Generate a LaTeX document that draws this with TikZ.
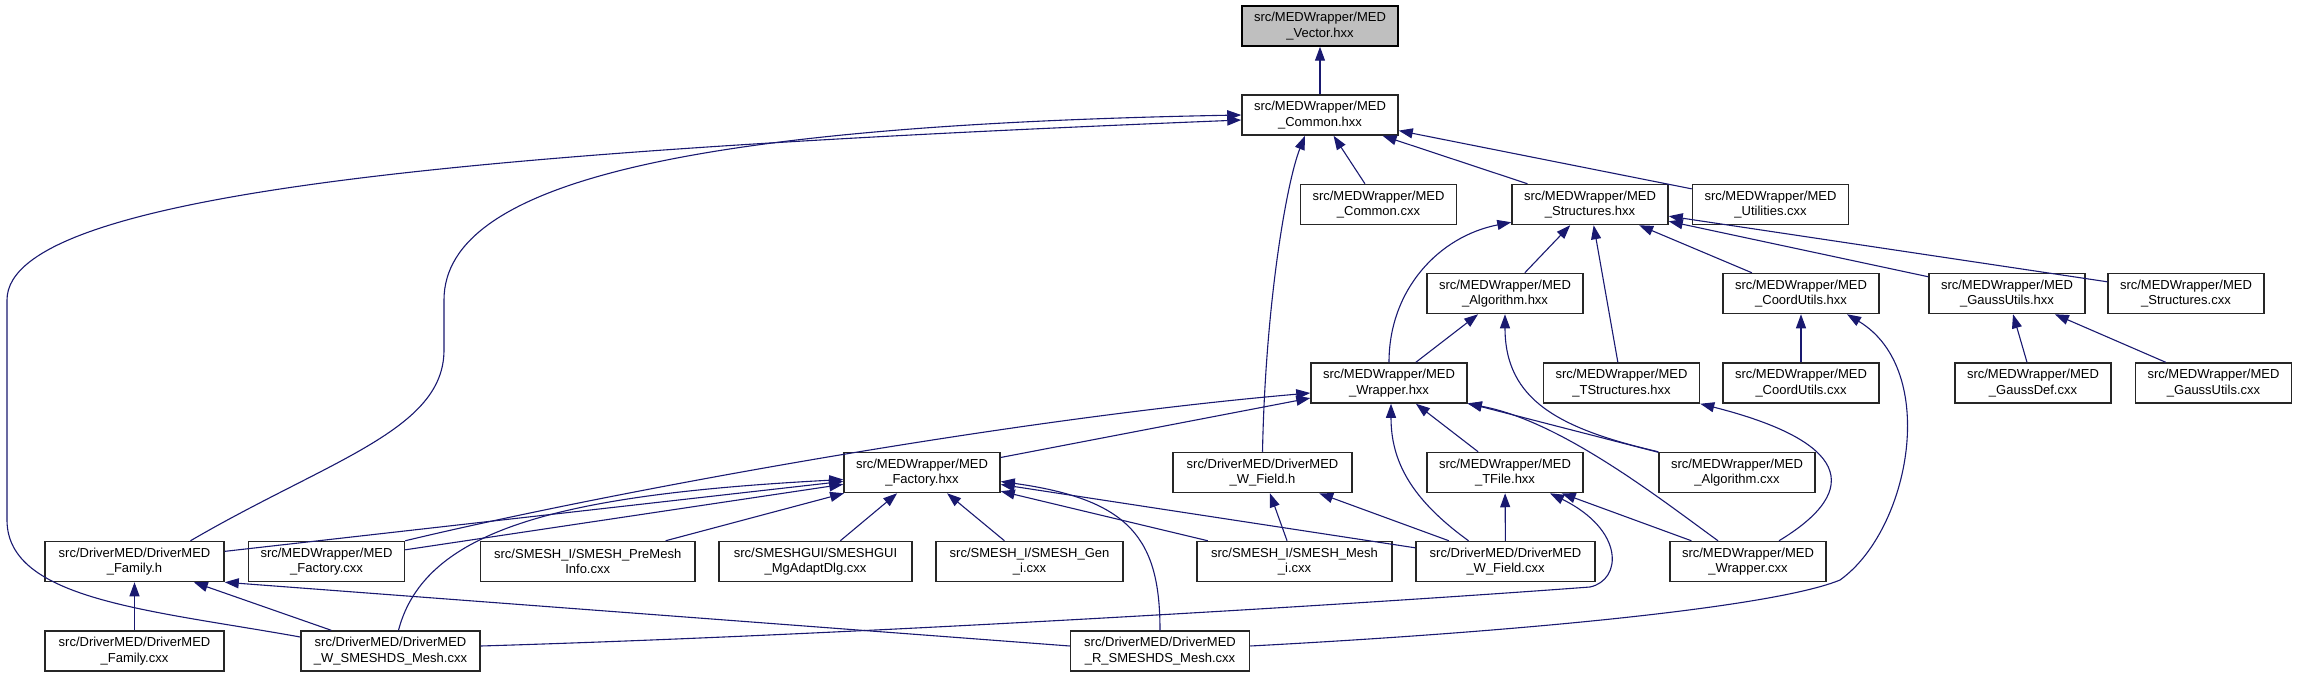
\documentclass[tikz,border=0pt]{standalone}
\usepackage{fontspec}
\setmainfont{Liberation Sans}
\usetikzlibrary{arrows.meta,calc}
\definecolor{depEdge}{HTML}{191970}
\definecolor{depRoot}{HTML}{BFBFBF}
\definecolor{depLine}{HTML}{262626}

\begin{document}
\begin{tikzpicture}[x=1pt,y=-1pt,
  file/.style={draw=depLine,line width=1.5pt,fill=white,minimum width=156pt,
    minimum height=40pt,inner sep=0pt,align=center,
    font=\fontsize{13}{15.3}\selectfont},
  root/.style={file,draw=black,fill=depRoot},
  drv/.style={file,minimum width=179pt},
  dep/.style={draw=depEdge,line width=1.1pt,-{Triangle[length=14pt,width=10pt]}}]
  \useasboundingbox (0,0) rectangle (2297,677);

  % headers and sources, row by row
  \node[root] (vecH) at (1320,26) {src/MEDWrapper/MED\\\_Vector.hxx};
  \node[file] (comH) at (1320,115) {src/MEDWrapper/MED\\\_Common.hxx};

  \node[file] (comC) at (1378.5,204.5) {src/MEDWrapper/MED\\\_Common.cxx};
  \node[file] (strH) at (1590,204.5) {src/MEDWrapper/MED\\\_Structures.hxx};
  \node[file] (utlC) at (1770.5,204.5) {src/MEDWrapper/MED\\\_Utilities.cxx};

  \node[file] (algH) at (1505,293.5) {src/MEDWrapper/MED\\\_Algorithm.hxx};
  \node[file] (crdH) at (1801,293.5) {src/MEDWrapper/MED\\\_CoordUtils.hxx};
  \node[file] (gauH) at (2007,293.5) {src/MEDWrapper/MED\\\_GaussUtils.hxx};
  \node[file] (strC) at (2186,293.5) {src/MEDWrapper/MED\\\_Structures.cxx};

  \node[file] (wrpH) at (1389,383) {src/MEDWrapper/MED\\\_Wrapper.hxx};
  \node[file] (tstH) at (1621.5,383) {src/MEDWrapper/MED\\\_TStructures.hxx};
  \node[file] (crdC) at (1801,383) {src/MEDWrapper/MED\\\_CoordUtils.cxx};
  \node[file] (gdfC) at (2033,383) {src/MEDWrapper/MED\\\_GaussDef.cxx};
  \node[file] (gauC) at (2213.5,383) {src/MEDWrapper/MED\\\_GaussUtils.cxx};

  \node[file] (facH) at (922,472.5) {src/MEDWrapper/MED\\\_Factory.hxx};
  \node[drv]  (wfdH) at (1262.5,472.5) {src/DriverMED/DriverMED\\\_W\_Field.h};
  \node[file] (tflH) at (1505,472.5) {src/MEDWrapper/MED\\\_TFile.hxx};
  \node[file] (algC) at (1737,472.5) {src/MEDWrapper/MED\\\_Algorithm.cxx};

  \node[drv]  (famH) at (134.5,561.5) {src/DriverMED/DriverMED\\\_Family.h};
  \node[file] (facC) at (326.5,561.5) {src/MEDWrapper/MED\\\_Factory.cxx};
  \node[file,minimum width=214.5pt] (pmiC) at (587.7,561.5) {src/SMESH\_I/SMESH\_PreMesh\\Info.cxx};
  \node[file,minimum width=193pt] (mgaC) at (815.5,561.5) {src/SMESHGUI/SMESHGUI\\\_MgAdaptDlg.cxx};
  \node[file,minimum width=187pt] (genC) at (1029.5,561.5) {src/SMESH\_I/SMESH\_Gen\\\_i.cxx};
  \node[file,minimum width=195pt] (mshC) at (1294.5,561.5) {src/SMESH\_I/SMESH\_Mesh\\\_i.cxx};
  \node[drv]  (wfdC) at (1505.5,561.5) {src/DriverMED/DriverMED\\\_W\_Field.cxx};
  \node[file] (wrpC) at (1748,561.5) {src/MEDWrapper/MED\\\_Wrapper.cxx};

  \node[drv] (famC) at (134.5,651) {src/DriverMED/DriverMED\\\_Family.cxx};
  \node[drv] (wsmC) at (390.5,651) {src/DriverMED/DriverMED\\\_W\_SMESHDS\_Mesh.cxx};
  \node[drv] (rsmC) at (1160,651) {src/DriverMED/DriverMED\\\_R\_SMESHDS\_Mesh.cxx};

  % include edges, arrow at the included file
  \draw[dep] (comH) -- (vecH);
  \draw[dep] (comC) -- (comH);
  \draw[dep] (strH) -- (comH);
  \draw[dep] (utlC) -- (comH);
  \draw[dep] ([xshift=56pt]famH.north) .. controls +(139,-81) and +(0,80) .. (444,350)
    -- (444,300) .. controls +(0,-120) and +(-542,10) .. (comH.west);
  \draw[dep] ([yshift=14pt]wsmC.west) .. controls +(-150,-27) and +(0,80) .. (7,520)
    -- (7,300) .. controls +(0,-110) and +(-742,30) .. ([yshift=-5pt]comH.west);
  \draw[dep] (wfdH.north) .. controls +(3,-150) and +(-18,45) .. ([xshift=-15pt]comH.south);

  \draw[dep] (algH) -- (strH);
  \draw[dep] (crdH) -- (strH);
  \draw[dep] (gauH) -- (strH);
  \draw[dep] (strC) -- (strH);
  \draw[dep] (tstH) -- (strH);
  \draw[dep] (wrpH.north) .. controls +(0,-73) and +(-72,14) .. ([yshift=3pt]strH.south west);

  \draw[dep] (wrpH) -- (algH);
  \draw[dep] (algC.north west) .. controls +(-99,-23) and +(0,86) .. (algH.south);

  \draw[dep] (crdC) -- (crdH);
  \draw[dep] ([yshift=5pt]rsmC.east) .. controls +(301,-16) and +(-60,25) .. (1840,580)
    .. controls +(70,-50) and +(93,56) .. ([xshift=46pt]crdH.south);

  \draw[dep] (gdfC) -- (gauH);
  \draw[dep] (gauC) -- (gauH);

  \draw[dep] (facH) -- (wrpH);
  \draw[dep] (tflH) -- (wrpH);
  \draw[dep] (algC) -- (wrpH);
  \draw[dep] (facC.north east) .. controls +(196,-47) and +(-311,27) .. ([yshift=-10pt]wrpH.west);
  \draw[dep] ([xshift=-37pt]wfdC.north) .. controls +(-58,-42) and +(0,57) .. ([xshift=2pt]wrpH.south);
  \draw[dep] ([xshift=-30pt]wrpC.north) .. controls +(-58,-42) and +(93,17) .. (wrpH.south east);
  \draw[dep] ([xshift=31pt]wrpC.north) .. controls +(86,-52) and +(146,37) .. (tstH.south east);

  \draw[dep] (famH) -- (facH);
  \draw[dep] (facC) -- (facH);
  \draw[dep] (pmiC) -- (facH);
  \draw[dep] (mgaC) -- (facH);
  \draw[dep] (genC) -- (facH);
  \draw[dep] (mshC) -- (facH);
  \draw[dep] (wfdC) -- (facH);
  \draw[dep] ([xshift=8pt]wsmC.north) .. controls +(26.5,-101) and +(-284,15) .. ([yshift=-7pt]facH.west);
  \draw[dep] (rsmC.north) .. controls +(0,-91) and +(130,18) .. ([yshift=-9pt]facH.east);

  \draw[dep] (mshC) -- (wfdH);
  \draw[dep] (wfdC) -- (wfdH);

  \draw[dep] (wfdC) -- (tflH);
  \draw[dep] (wrpC) -- (tflH);
  \draw[dep] ([yshift=5pt]wsmC.east) .. controls +(400,-12) and +(-200,15) .. (1590,587)
    .. controls +(32,-7) and +(75,37) .. ([xshift=45pt]tflH.south);

  \draw[dep] (famC) -- (famH);
  \draw[dep] (wsmC) -- (famH);
  \draw[dep] ([yshift=5pt]rsmC.west) -- (famH.south east);
\end{tikzpicture}
\end{document}
